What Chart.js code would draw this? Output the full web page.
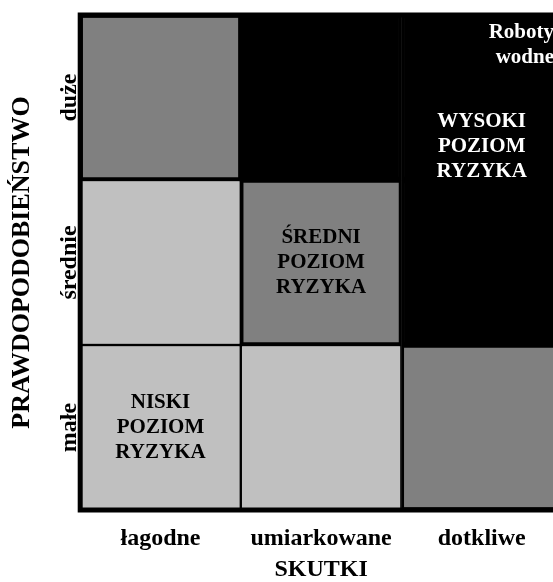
<!DOCTYPE html>
<html>
<head>
<meta charset="utf-8">
<script src="https://cdn.jsdelivr.net/npm/chart.js@4"></script>
<style>
    html, body { margin: 0; padding: 0; background: #fff; overflow: hidden; }
    #wrap { width: 562px; height: 582px; }
</style>
</head>
<body>
<div id="wrap"><canvas id="riskChart" width="562" height="582"></canvas></div>
<script>
// Categories
const skutki = ['łagodne', 'umiarkowane', 'dotkliwe'];
const prawdopodobienstwo = ['małe', 'średnie', 'duże'];

// Risk level of each cell, one row per probability (0 = niski, 1 = średni, 2 = wysoki)
const poziomMale = [0, 0, 1];
const poziomSrednie = [0, 1, 2];
const poziomDuze = [1, 2, 2];

// Every cell is one unit tall
const komorki = [1, 1, 1];

const poziomKolory = ['#c0c0c0', '#808080', '#000000'];
const poziomRamki = [1.5, 3, 3];

const fontFamily = '"Liberation Serif", "Times New Roman", serif';

// Texts written inside the matrix (col = category index, row = value on the y scale)
const opisy = [
    { lines: ['NISKI', 'POZIOM', 'RYZYKA'], col: 0, row: 0.5, color: '#000', align: 'center' },
    { lines: ['ŚREDNI', 'POZIOM', 'RYZYKA'], col: 1, row: 1.5, color: '#000', align: 'center' },
    { lines: ['WYSOKI', 'POZIOM', 'RYZYKA'], col: 2, row: 2.2, color: '#fff', align: 'center' },
    { lines: ['Roboty', 'wodne'], col: 2.45, row: 2.82, color: '#fff', align: 'right' }
];

function makeDataset(label, levels) {
    return {
        label: label,
        data: komorki,
        backgroundColor: levels.map(l => poziomKolory[l]),
        borderColor: '#000',
        borderWidth: levels.map(l => poziomRamki[l]),
        borderSkipped: false,
        categoryPercentage: 1,
        barPercentage: 1
    };
}

const matrixPlugin = {
    id: 'matrixPlugin',
    afterDatasetsDraw(chart) {
        const { ctx, chartArea, scales } = chart;
        ctx.save();

        // outer frame
        ctx.strokeStyle = '#000';
        ctx.lineWidth = 5;
        ctx.strokeRect(chartArea.left, chartArea.top, chartArea.right - chartArea.left, chartArea.bottom - chartArea.top);

        // risk texts
        ctx.font = 'bold 21px ' + fontFamily;
        ctx.textBaseline = 'middle';
        const colW = scales.x.getPixelForValue(1) - scales.x.getPixelForValue(0);
        opisy.forEach(o => {
            const x = scales.x.getPixelForValue(0) + o.col * colW;
            const y = scales.y.getPixelForValue(o.row);
            const lh = 25;
            const y0 = y - (o.lines.length - 1) * lh / 2;
            ctx.fillStyle = o.color;
            ctx.textAlign = o.align;
            o.lines.forEach((t, i) => ctx.fillText(t, x, y0 + i * lh));
        });

        // rotated probability labels
        ctx.font = 'bold 24px ' + fontFamily;
        ctx.fillStyle = '#000';
        ctx.textAlign = 'center';
        ctx.textBaseline = 'alphabetic';
        prawdopodobienstwo.forEach((t, i) => {
            const y = scales.y.getPixelForValue(i + 0.5);
            ctx.save();
            ctx.translate(chartArea.left - 4, y);
            ctx.rotate(-Math.PI / 2);
            ctx.fillText(t, 0, 0);
            ctx.restore();
        });
        ctx.restore();
    }
};

new Chart(document.getElementById('riskChart'), {
    type: 'bar',
    data: {
        labels: skutki,
        datasets: [
            makeDataset(prawdopodobienstwo[0], poziomMale),
            makeDataset(prawdopodobienstwo[1], poziomSrednie),
            makeDataset(prawdopodobienstwo[2], poziomDuze)
        ]
    },
    options: {
        responsive: false,
        animation: false,
        layout: { padding: { left: 7, right: 0, top: 15, bottom: 0 } },
        plugins: {
            legend: { display: false },
            tooltip: { enabled: false }
        },
        scales: {
            x: {
                stacked: true,
                afterFit: scale => { scale.height = 72; },
                grid: { display: false, drawTicks: false },
                border: { display: false },
                ticks: {
                    color: '#000',
                    padding: 14,
                    font: { family: fontFamily, size: 24, weight: 'bold' }
                },
                title: {
                    display: true,
                    text: 'SKUTKI',
                    color: '#000',
                    padding: { top: 0, bottom: -2 },
                    font: { family: fontFamily, size: 24, weight: 'bold' }
                }
            },
            y: {
                stacked: true,
                min: 0,
                max: 3,
                grid: { display: false, drawTicks: false },
                border: { display: false },
                ticks: { display: false },
                title: {
                    display: true,
                    text: 'PRAWDOPODOBIEŃSTWO',
                    color: '#000',
                    padding: { top: 0, bottom: 42 },
                    font: { family: fontFamily, size: 26, weight: 'bold' }
                }
            }
        }
    },
    plugins: [matrixPlugin]
});
</script>
</body>
</html>
